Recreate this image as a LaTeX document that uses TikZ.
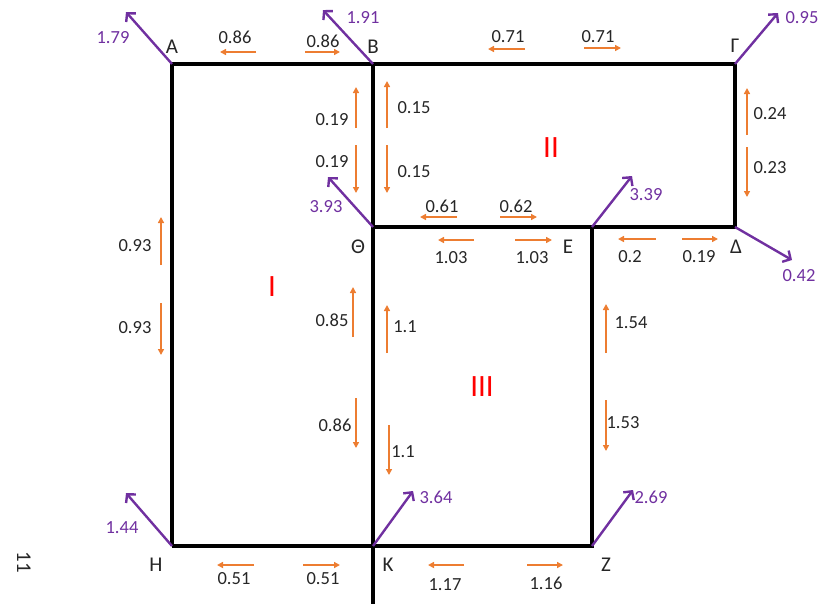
\documentclass[tikz,border=0pt]{standalone}
\usepackage{fontspec}
\setmainfont{Carlito}
\usetikzlibrary{arrows.meta}
\definecolor{oar}{HTML}{ED7D31}
\definecolor{pur}{HTML}{7030A0}
\definecolor{rgn}{HTML}{FF0000}
\begin{document}
\begin{tikzpicture}[x=1pt,y=-1pt,
  frame/.style={line width=4.5pt,black,line join=miter},
  oarr/.style={oar,line width=1.5pt,-{Triangle[length=6pt,width=6pt]}},
  parr/.style={pur,line width=2.4pt,-{Straight Barb[length=6pt,width=13pt]}},
  num/.style={font=\fontsize{18.5}{18.5}\selectfont,text=black!85,inner sep=0pt},
  pnum/.style={font=\fontsize{18.5}{18.5}\selectfont,text=pur,inner sep=0pt},
  vlab/.style={font=\fontsize{21}{21}\selectfont,text=black!85,inner sep=0pt},
  region/.style={font=\fontsize{31}{31}\selectfont,text=rgn,inner sep=0pt}]
\useasboundingbox (0,0) rectangle (821,606);
% vertices
\coordinate (A) at (172,64);
\coordinate (B) at (373,64);
\coordinate (G) at (735,64);
\coordinate (D) at (735,227);
\coordinate (E) at (592,227);
\coordinate (T) at (373,227);
\coordinate (H) at (172,546);
\coordinate (K) at (373,546);
\coordinate (Z) at (592,546);
\coordinate (Kb) at (373,604);
% frame
\draw[frame] (H) -- (A) -- (G) -- (D) -- (T);
\draw[frame] (B) -- (Kb);
\draw[frame] (H) -- (Z) -- (E);
% vertex labels
\node[vlab] (lA) at (172,47) {Α};
\node[vlab] (lB) at (373,47) {Β};
\node[vlab] (lG) at (735,46) {Γ};
\node[vlab] (lT) at (358,247) {Θ};
\node[vlab] (lE) at (568,247) {Ε};
\node[vlab] (lD) at (736,247) {Δ};
\node[vlab] (lH) at (156,565) {Η};
\node[vlab] (lK) at (388,565) {Κ};
\node[vlab] (lZ) at (606,565) {Ζ};
% regions
\node[region] (rI) at (272,287) {I};
\node[region] (rII) at (551,148) {II};
\node[region] (rIII) at (482,387) {III};
% side mark
\node[font=\fontsize{21}{21}\selectfont,text=black!85,rotate=-90,inner sep=0pt] (side) at (24,562) {11};
% purple arrows
\foreach \v/\n/\tx/\ty/\t/\lx/\ly in {
  A/pa/126/12/1.79/113/38,
  B/pb/323/10/1.91/363/18,
  G/pg/778/13/0.95/802/18,
  T/pt/328/177/3.93/326/207,
  E/pe/632/176/3.39/646/195,
  D/pd/792/260/0.42/799/276,
  H/ph/126/493/1.44/122/528,
  K/pk/413/491/3.64/436/497,
  Z/pz/633/490/2.69/651/497}{
  \coordinate (\n) at (\tx,\ty);
  \draw[parr] (\v) -- (\n);
  \node[pnum] (l\n) at (\lx,\ly) {\t};
}
% orange arrows
\foreach \n/\xa/\ya/\xb/\yb/\t/\lx/\ly in {
  1/256/52/220/52/0.86/235/37,
  2/305/52/340/52/0.86/323/41,
  3/525/49/488/49/0.71/508/37,
  4/584/48/621/48/0.71/598/37,
  5/356/128/356/87/0.19/332/120,
  6/356/145/356/193/0.19/332/162,
  7/387/128/387/81/0.15/414/108,
  8/387/145/387/193/0.15/414/172,
  9/747/135/747/88/0.24/770/114,
  10/747/147/747/197/0.23/770/168,
  11/457/217/420/217/0.61/442/206,
  12/500/217/537/217/0.62/516/206,
  13/474/240/438/240/1.03/451/258,
  14/515/240/552/240/1.03/532/258,
  15/656/239/618/239/0.2/630/257,
  16/682/239/718/239/0.19/699/257,
  17/161/265/161/217/0.93/135/246,
  18/161/303/161/355/0.93/135/328,
  19/353/337/353/287/0.85/332/320,
  20/356/398/356/448/0.86/335/425,
  21/387/353/387/305/1.1/405/327,
  22/389/425/389/475/1.1/403/452,
  23/606/353/606/304/1.54/631/323,
  24/606/400/606/451/1.53/623/423,
  25/464/565/428/565/1.17/445/585,
  26/527/565/563/565/1.16/546/583,
  27/254/565/217/565/0.51/234/579,
  28/303/565/340/565/0.51/323/579}{
  \coordinate (s\n) at (\xa,\ya);
  \coordinate (e\n) at (\xb,\yb);
  \draw[oarr] (s\n) -- (e\n);
  \node[num] (t\n) at (\lx,\ly) {\t};
}
\end{tikzpicture}
\end{document}
